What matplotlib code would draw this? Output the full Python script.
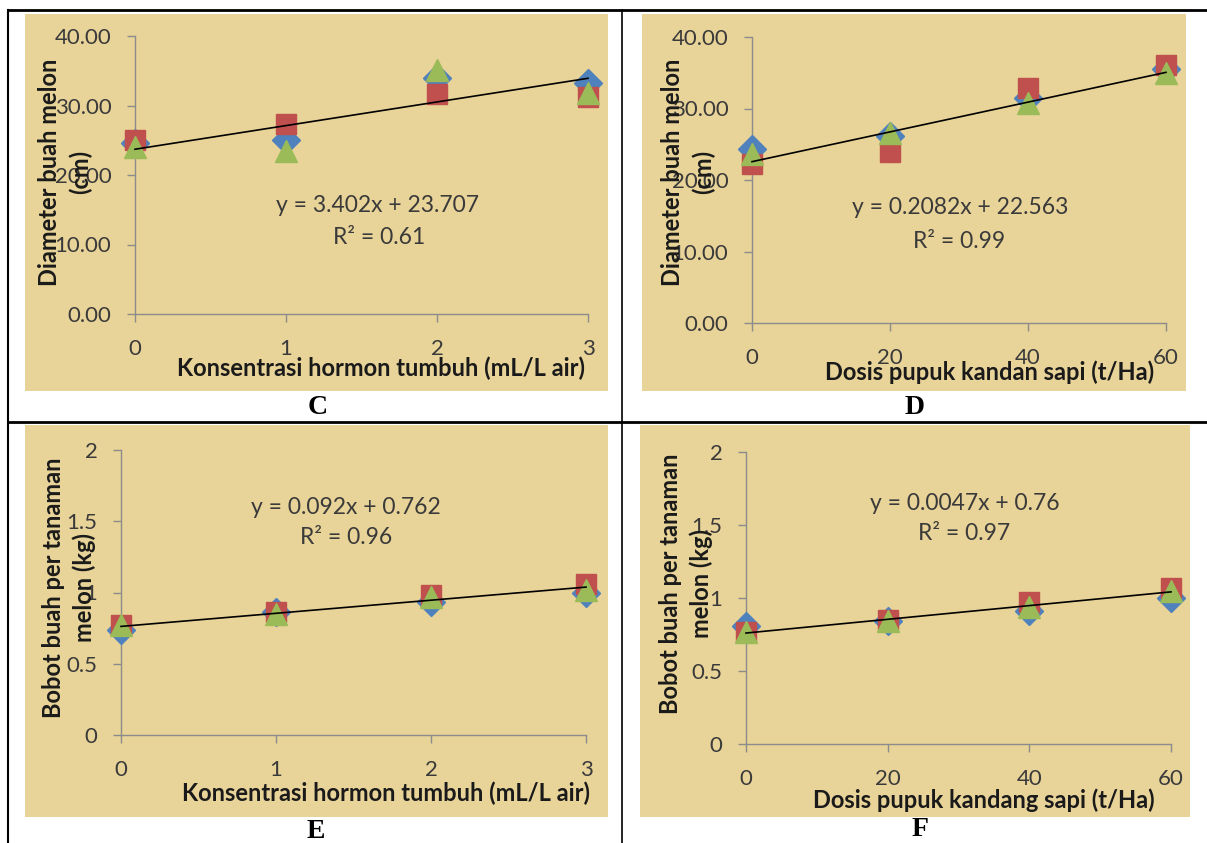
import numpy as np
import matplotlib.pyplot as plt
from matplotlib.patches import Rectangle
from matplotlib.lines import Line2D

W, H = 1207, 843

# --- data ---
# C: konsentrasi hormon vs diameter
hormon_x = [0, 1, 2, 3]
diam_hormon_blue = [24.6, 25.0, 34.0, 33.2]
diam_hormon_red = [25.0, 27.3, 31.7, 31.2]
diam_hormon_green = [24.0, 23.5, 35.1, 31.8]
diam_hormon_fit = (3.402, 23.707)
diam_hormon_r2 = 0.61

# D: dosis pupuk vs diameter
pupuk_x = [0, 20, 40, 60]
diam_pupuk_blue = [24.4, 26.2, 31.5, 35.5]
diam_pupuk_red = [22.3, 23.9, 32.8, 36.1]
diam_pupuk_green = [23.6, 26.6, 30.7, 35.0]
diam_pupuk_fit = (0.2082, 22.563)
diam_pupuk_r2 = 0.99

# E: konsentrasi hormon vs bobot
bobot_hormon_blue = [0.74, 0.86, 0.93, 1.00]
bobot_hormon_red = [0.77, 0.86, 0.98, 1.06]
bobot_hormon_green = [0.77, 0.85, 0.97, 1.02]
bobot_hormon_fit = (0.092, 0.762)
bobot_hormon_r2 = 0.96

# F: dosis pupuk vs bobot
bobot_pupuk_blue = [0.81, 0.84, 0.91, 1.00]
bobot_pupuk_red = [0.77, 0.85, 0.97, 1.07]
bobot_pupuk_green = [0.77, 0.84, 0.94, 1.05]
bobot_pupuk_fit = (0.0047, 0.76)
bobot_pupuk_r2 = 0.97

FONT = "Lato"
TXT = "#3a3a3a"
AXC = "#8c8c8c"
BG = "#e8d398"

fig = plt.figure(figsize=(W / 100, H / 100), dpi=100)
fig.patch.set_facecolor("white")


def fx(x):
    return x / W


def fy(y):
    return 1 - y / H


def add_bg(x0, y0, x1, y1):
    fig.add_artist(Rectangle((fx(x0), fy(y1)), fx(x1 - x0), (y1 - y0) / H,
                             facecolor=BG, edgecolor="none", zorder=0))


def ftext(x, y, s, **kw):
    fig.text(fx(x), fy(y), s, ha="center", va="center", **kw)


def panel(box, xs, blue, red, green, fit, xlim, ylim, yticks, yfmt):
    left, top, right, bottom = box
    ax = fig.add_axes([fx(left), fy(bottom), fx(right - left), (bottom - top) / H])
    ax.set_facecolor("none")
    for s in ["top", "right"]:
        ax.spines[s].set_visible(False)
    for s in ["left", "bottom"]:
        ax.spines[s].set_color(AXC)
        ax.spines[s].set_linewidth(1.0)
    ax.set_xlim(*xlim)
    ax.set_ylim(*ylim)
    ax.set_xticks(xs)
    ax.set_yticks(yticks)
    ax.set_yticklabels([yfmt(v) for v in yticks])
    ax.tick_params(axis="both", direction="out", length=6, width=1.0, color=AXC,
                   labelsize=16, labelcolor=TXT)
    ax.tick_params(axis="x", pad=12)
    ax.tick_params(axis="y", pad=11)
    for lab in ax.get_xticklabels() + ax.get_yticklabels():
        lab.set_fontfamily(FONT)

    ax.plot(xs, blue, "D", ms=14, color="#4f81bd", mec="#4f81bd", clip_on=False, zorder=3)
    ax.plot(xs, red, "s", ms=14.5, color="#c0504d", mec="#c0504d", clip_on=False, zorder=4)
    ax.plot(xs, green, "^", ms=15.5, color="#9bbb59", mec="#9bbb59", clip_on=False, zorder=5)
    ends = np.array([xs[0], xs[-1]])
    ax.plot(ends, fit[0] * ends + fit[1], color="black", lw=1.2, clip_on=False, zorder=6)
    return ax


# backgrounds
add_bg(25, 14, 608, 391)
add_bg(642, 14, 1186, 391)
add_bg(25, 425, 608, 817)
add_bg(640, 425, 1190, 817)

# panels
f2 = lambda v: f"{v:.2f}"
fg = lambda v: f"{v:g}"
panel((135, 36, 588, 314), hormon_x, diam_hormon_blue, diam_hormon_red, diam_hormon_green,
      diam_hormon_fit, (0, 3), (0, 40), [0, 10, 20, 30, 40], f2)
panel((752, 37, 1166, 323), pupuk_x, diam_pupuk_blue, diam_pupuk_red, diam_pupuk_green,
      diam_pupuk_fit, (0, 60), (0, 40), [0, 10, 20, 30, 40], f2)
panel((121, 450, 586, 735), hormon_x, bobot_hormon_blue, bobot_hormon_red, bobot_hormon_green,
      bobot_hormon_fit, (0, 3), (0, 2), [0, 0.5, 1, 1.5, 2], fg)
panel((746, 452, 1171, 744), pupuk_x, bobot_pupuk_blue, bobot_pupuk_red, bobot_pupuk_green,
      bobot_pupuk_fit, (0, 60), (0, 2), [0, 0.5, 1, 1.5, 2], fg)

# equations
eq_kw = dict(fontsize=16.5, color=TXT, family=FONT, zorder=10)
ftext(378, 205, f"y = {diam_hormon_fit[0]}x + {diam_hormon_fit[1]}", **eq_kw)
ftext(379, 238, f"R² = {diam_hormon_r2}", **eq_kw)
ftext(960, 208, f"y = {diam_pupuk_fit[0]}x + {diam_pupuk_fit[1]}", **eq_kw)
ftext(959, 241, f"R² = {diam_pupuk_r2}", **eq_kw)
ftext(346, 507, f"y = {bobot_hormon_fit[0]}x + {bobot_hormon_fit[1]}", **eq_kw)
ftext(346, 538, f"R² = {bobot_hormon_r2}", **eq_kw)
ftext(965, 503, f"y = {bobot_pupuk_fit[0]}x + {bobot_pupuk_fit[1]}", **eq_kw)
ftext(964, 534, f"R² = {bobot_pupuk_r2}", **eq_kw)

# axis titles
lab_kw = dict(fontsize=17, color="#1a1a1a", family=FONT, weight="bold", zorder=10)
ftext(381, 368, "Konsentrasi hormon tumbuh (mL/L air)", **lab_kw)
ftext(990, 372, "Dosis pupuk kandan sapi (t/Ha)", **lab_kw)
ftext(386, 793, "Konsentrasi hormon tumbuh (mL/L air)", **lab_kw)
ftext(984, 800, "Dosis pupuk kandang sapi (t/Ha)", **lab_kw)

ylab_kw = dict(rotation=90, multialignment="center", linespacing=1.4, **lab_kw)
ftext(65, 172, "Diameter buah melon\n(cm)", **ylab_kw)
ftext(688, 172, "Diameter buah melon\n(cm)", **ylab_kw)
ftext(69, 588, "Bobot buah per tanaman\nmelon (kg)", **ylab_kw)
ftext(686, 584, "Bobot buah per tanaman\nmelon (kg)", **ylab_kw)

# panel letters
let_kw = dict(fontsize=20, color="black", family="Liberation Serif", weight="bold")
ftext(318, 407, "C", **let_kw)
ftext(915, 407, "D", **let_kw)
ftext(316, 832, "E", **let_kw)
ftext(920, 830, "F", **let_kw)


# table borders
def border(x0, y0, x1, y1, lw):
    fig.add_artist(Line2D([fx(x0), fx(x1)], [fy(y0), fy(y1)], color="black", lw=lw))


border(8, 10, 1207, 10, 2.0)
border(8, 10, 8, 843, 1.5)
border(622, 10, 622, 843, 1.2)
border(8, 422, 1207, 422, 2.0)

fig.savefig("out.png", dpi=100)
